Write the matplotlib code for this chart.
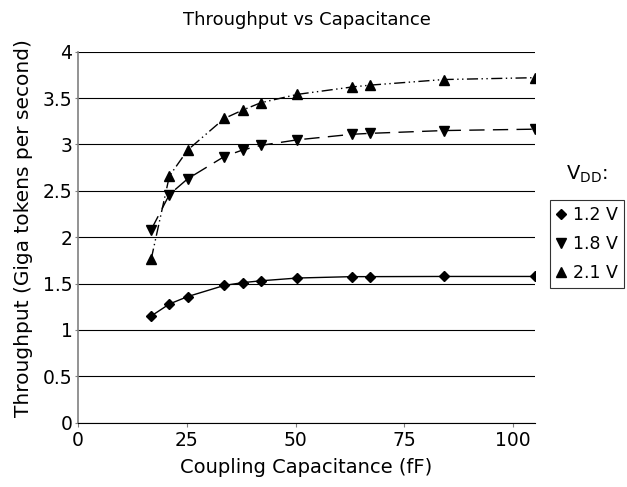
import matplotlib
matplotlib.use("Agg")
import matplotlib.pyplot as plt
from matplotlib.lines import Line2D

# coupling capacitance (fF)
cap = [16.8, 21.0, 25.2, 33.6, 37.8, 42.0, 50.4, 63.0, 67.2, 84.0, 105.0]

# throughput (Giga tokens per second)
thr_12 = [1.15, 1.28, 1.36, 1.48, 1.51, 1.53, 1.56, 1.575, 1.575, 1.577, 1.577]
thr_18 = [2.08, 2.46, 2.63, 2.87, 2.94, 2.99, 3.05, 3.11, 3.12, 3.15, 3.165]
thr_21 = [1.76, 2.66, 2.94, 3.28, 3.37, 3.45, 3.54, 3.62, 3.64, 3.70, 3.72]

labels = ["1.2 V", "1.8 V", "2.1 V"]

plt.rcParams['font.family'] = 'DejaVu Sans'

fig = plt.figure(figsize=(6.27, 4.87), dpi=100)
ax = fig.add_axes([0.1244, 0.132, 0.7289, 0.7618])

ax.plot(cap, thr_12, color='black', lw=1, ls='-', marker='D', ms=5.5, zorder=3)
ax.plot(cap, thr_18, color='black', lw=1, ls=(0, (11, 6)), marker='v', ms=7.5, zorder=3)
ax.plot(cap, thr_21, color='black', lw=1, ls=(0, (8, 2.5, 1, 2.5, 1, 2.5)), marker='^', ms=7.5, zorder=3)

ax.set_xlim(0, 105)
ax.set_ylim(0, 4)
ax.set_xticks([0, 25, 50, 75, 100])
ax.set_yticks([0, 0.5, 1, 1.5, 2, 2.5, 3, 3.5, 4])
ax.set_yticklabels(["0", "0.5", "1", "1.5", "2", "2.5", "3", "3.5", "4"])
ax.yaxis.grid(True, color='black', lw=0.8)
ax.set_axisbelow(True)

for s in ['top', 'right']:
    ax.spines[s].set_visible(False)
ax.spines['left'].set_color('#808080')
ax.spines['left'].set_linewidth(1.2)
ax.spines['bottom'].set_color('black')
ax.tick_params(axis='both', labelsize=13.5, color='#808080', length=3, pad=3)
ax.tick_params(axis='y', length=2, pad=2)

ax.set_title("Throughput vs Capacitance", fontsize=13, pad=19)
ax.set_xlabel("Coupling Capacitance (fF)", fontsize=14, labelpad=6)
ax.set_ylabel("Throughput (Giga tokens per second)", fontsize=14.5, labelpad=7, y=0.525)

handles = [Line2D([], [], color='black', ls='none', marker='D', ms=5.5),
           Line2D([], [], color='black', ls='none', marker='v', ms=7.5),
           Line2D([], [], color='black', ls='none', marker='^', ms=7.5)]
leg = fig.legend(handles, labels, loc='upper left', bbox_to_anchor=(0.877, 0.589),
                 fontsize=12.5, frameon=True, fancybox=False, handlelength=0.6,
                 handletextpad=0.4, borderpad=0.35, labelspacing=0.62,
                 borderaxespad=0)
leg.get_frame().set_edgecolor('black')
leg.get_frame().set_linewidth(0.8)
fig.text(0.935, 0.62, r"V$_{\mathrm{DD}}$:", fontsize=14, ha='center', va='bottom')

fig.savefig("out.png", dpi=100)
